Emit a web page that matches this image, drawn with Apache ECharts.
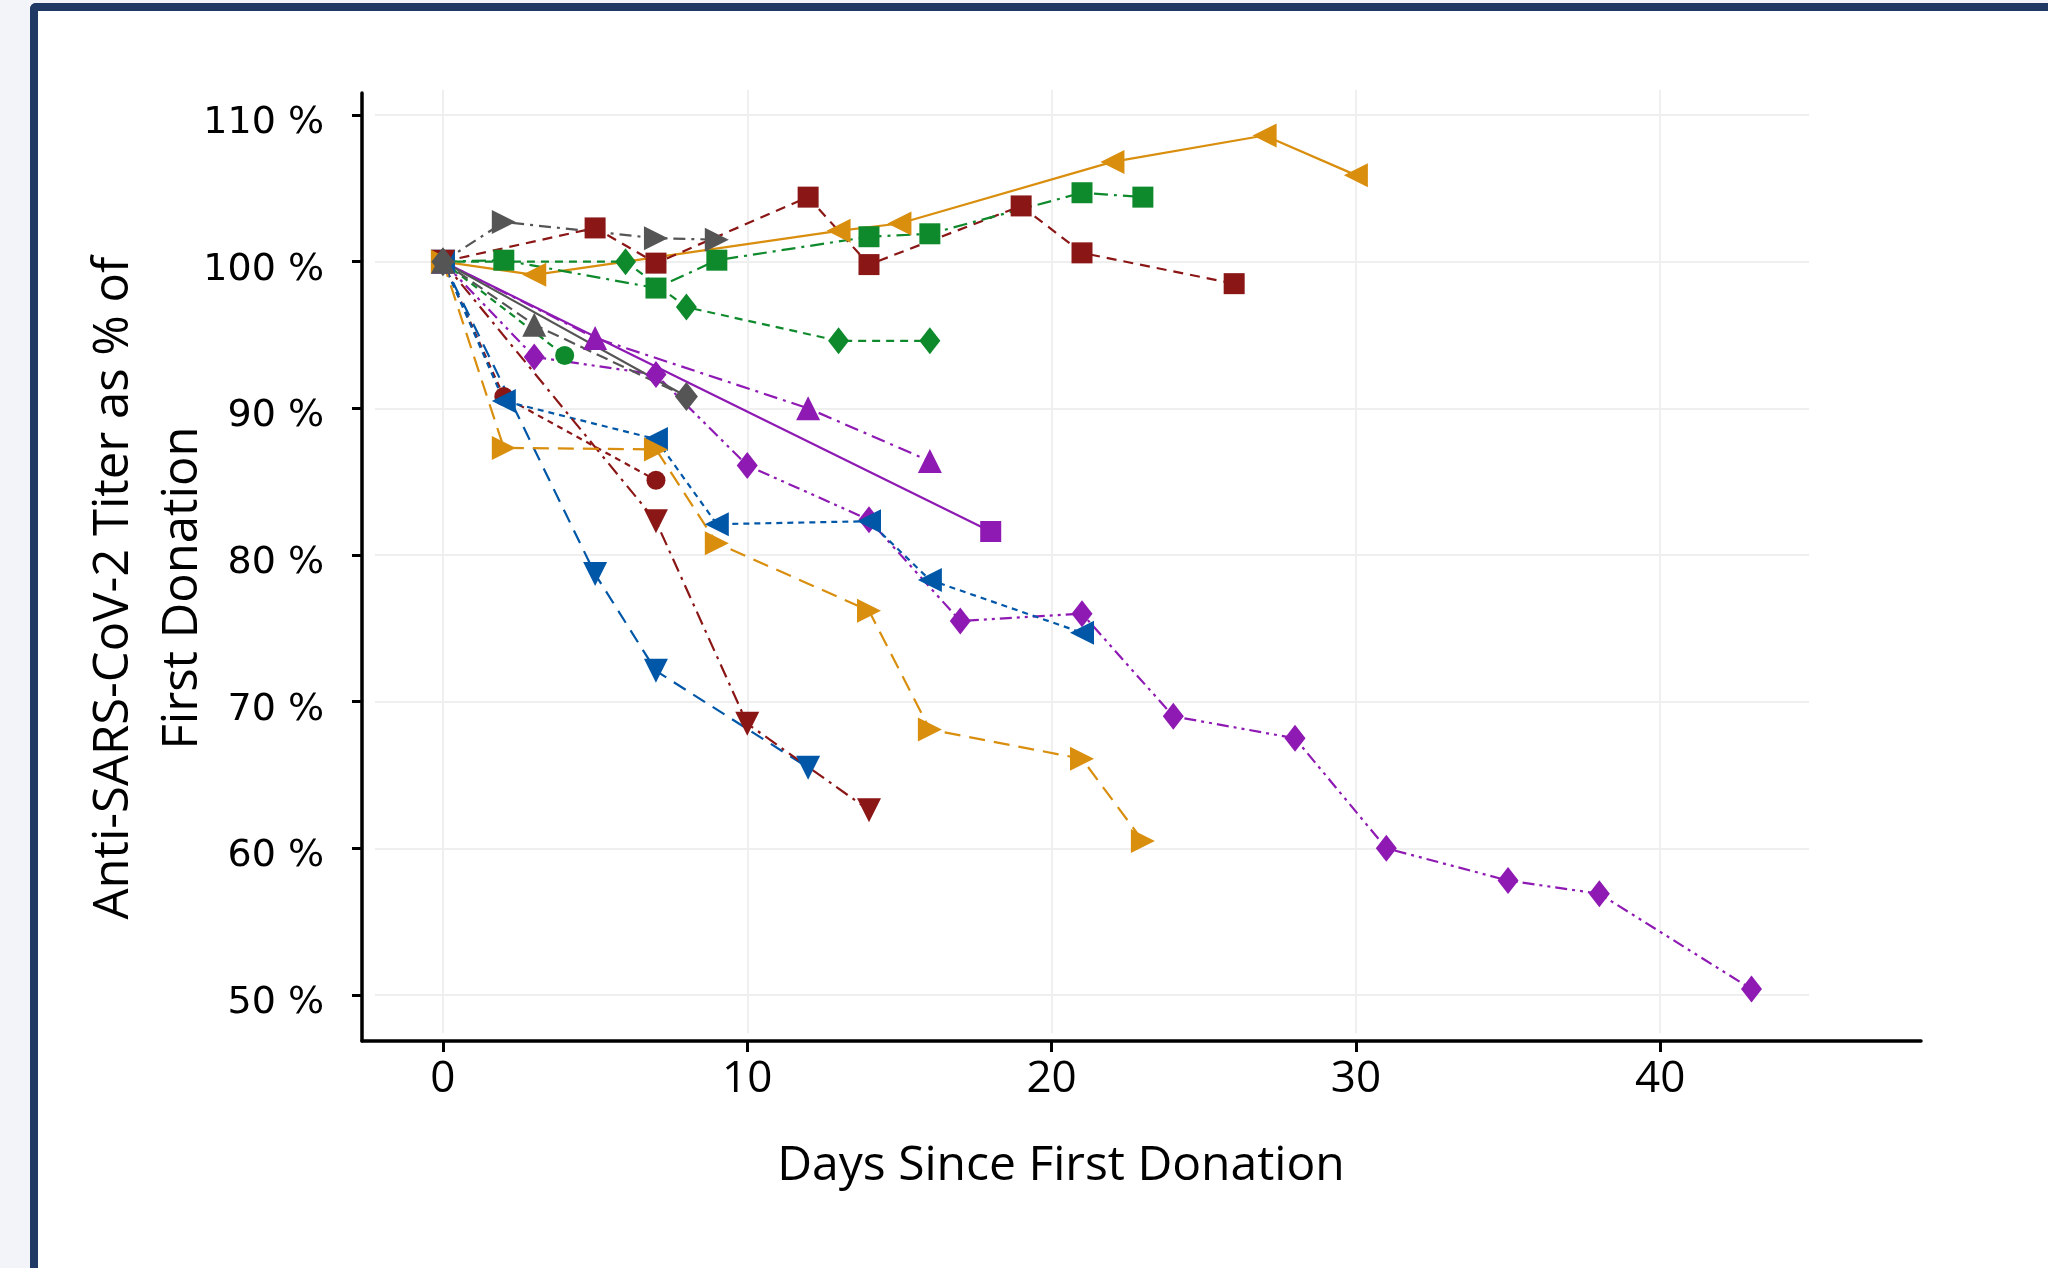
<!DOCTYPE html>
<html>
<head>
<meta charset="utf-8">
<script src="https://cdn.jsdelivr.net/npm/echarts@6/dist/echarts.min.js"></script>
<style>
  html, body { margin:0; padding:0; width:2048px; height:1268px; background:#f3f4f9; overflow:hidden; }
  #frame { position:absolute; left:30px; top:3px; right:0; bottom:0; background:#ffffff;
           border-left:8px solid #1f3864; border-top:8px solid #1f3864; border-top-left-radius:6px; }
  #chart { position:absolute; left:0; top:0; width:2048px; height:1268px; }
</style>
</head>
<body>
<div id="frame"></div>
<div id="chart"></div>
<script>
// ---- data (days since first donation, % of first donation titer) ----
const xTicks = [0, 10, 20, 30, 40];
const yTicks = [50, 60, 70, 80, 90, 100, 110];

const grayRightDays = [0, 2, 7, 9];
const grayRightVals = [100, 102.7, 101.6, 101.5];

const redSqDays = [0, 5, 7, 12, 14, 19, 21, 26];
const redSqVals = [100, 102.3, 99.9, 104.4, 99.8, 103.8, 100.6, 98.5];

const orangeLeftDays = [0, 3, 13, 15, 22, 27, 30];
const orangeLeftVals = [100, 99.1, 102.1, 102.6, 106.8, 108.6, 105.9];

const greenSqDays = [0, 2, 7, 9, 14, 16, 21, 23];
const greenSqVals = [100, 100.1, 98.2, 100.1, 101.7, 101.9, 104.7, 104.4];

const greenDiaDays = [0, 6, 8, 13, 16];
const greenDiaVals = [100, 100, 96.9, 94.6, 94.6];

const greenCircDays = [0, 4];
const greenCircVals = [100, 93.6];

const grayUpDays = [0, 3, 8];
const grayUpVals = [100, 95.7, 90.8];

const grayDiaDays = [0, 8];
const grayDiaVals = [100, 90.8];

const purpleUpDays = [0, 5, 12, 16];
const purpleUpVals = [100, 94.8, 90.0, 86.4];

const purpleSqDays = [0, 18];
const purpleSqVals = [100, 81.6];

const purpleDiaDays = [0, 3, 7, 10, 14, 17, 21, 24, 28, 31, 35, 38, 43];
const purpleDiaVals = [100, 93.5, 92.3, 86.1, 82.4, 75.5, 76.0, 69.0, 67.5, 60.0, 57.8, 56.9, 50.4];

const blueLeftDays = [0, 2, 7, 9, 14, 16, 21];
const blueLeftVals = [100, 90.5, 87.9, 82.1, 82.3, 78.3, 74.7];

const blueDownDays = [0, 5, 7, 12];
const blueDownVals = [100, 78.7, 72.1, 65.5];

const redCircDays = [0, 2, 7];
const redCircVals = [100, 90.8, 85.1];

const redDownDays = [0, 7, 10, 14];
const redDownVals = [100, 82.3, 68.5, 62.6];

const orangeRightDays = [0, 2, 7, 9, 14, 16, 21, 23];
const orangeRightVals = [100, 87.3, 87.2, 80.8, 76.2, 68.1, 66.1, 60.5];

// ---- styling ----
const C = {
  red: '#8B1616', gray: '#555555', green: '#0E8A2C', orange: '#D98E0E',
  purple: '#8E19B3', blue: '#0057A8'
};
function pairs(d, v) { return d.map((x, i) => [x, v[i]]); }
function mk(name, days, vals, color, symbol, rot, size, dash, opts) {
  return Object.assign({
    name, type: 'line', xAxisIndex: 0, yAxisIndex: 0,
    data: pairs(days, vals),
    symbol, symbolRotate: rot, symbolSize: size, showSymbol: true,
    lineStyle: { color, width: 2.2, type: dash },
    itemStyle: { color, borderWidth: 0 },
    emphasis: { disabled: true }, animation: false, silent: true, z: 3
  }, opts || {});
}

const TRI = 24, SQ = 21, DIA = [21, 27], CIR = 19;
const series = [
  mk('orangeLeft', orangeLeftDays, orangeLeftVals, C.orange, 'triangle', 90, TRI, 'solid'),
  mk('redSq', redSqDays, redSqVals, C.red, 'rect', 0, SQ, [10, 7]),
  mk('greenSq', greenSqDays, greenSqVals, C.green, 'rect', 0, SQ, [14, 6, 3, 6]),
  mk('greenDia', greenDiaDays, greenDiaVals, C.green, 'diamond', 0, DIA, [8, 6]),
  mk('grayRight', grayRightDays, grayRightVals, C.gray, 'triangle', -90, TRI, [12, 6, 3, 6]),
  mk('greenCirc', greenCircDays, greenCircVals, C.green, 'circle', 0, CIR, [7, 5]),
  mk('purpleUp', purpleUpDays, purpleUpVals, C.purple, 'triangle', 0, TRI, [14, 6, 3, 6]),
  mk('purpleSq', purpleSqDays, purpleSqVals, C.purple, 'rect', 0, SQ, 'solid'),
  mk('purpleDia', purpleDiaDays, purpleDiaVals, C.purple, 'diamond', 0, DIA, [12, 5, 3, 5, 3, 5]),
  mk('redCirc', redCircDays, redCircVals, C.red, 'circle', 0, CIR, [6, 5]),
  mk('blueLeft', blueLeftDays, blueLeftVals, C.blue, 'triangle', 90, TRI, [6, 5]),
  mk('blueDown', blueDownDays, blueDownVals, C.blue, 'triangle', 180, TRI, [14, 9]),
  mk('redDown', redDownDays, redDownVals, C.red, 'triangle', 180, TRI, [14, 6, 3, 6]),
  mk('orangeRight', orangeRightDays, orangeRightVals, C.orange, 'triangle', -90, TRI, [16, 9]),
  mk('grayUp', grayUpDays, grayUpVals, C.gray, 'triangle', 0, TRI, [12, 6],
     { symbolSize: (v, p) => (p.dataIndex === grayUpDays.length - 1 ? 0 : TRI) }),
  mk('grayDia', grayDiaDays, grayDiaVals, C.gray, 'diamond', 0, [23, 29], 'solid')
];

const gridColor = '#efefef';
const nameFont = '49px "Open Sans", sans-serif';
const chart = echarts.init(document.getElementById('chart'), null, { renderer: 'canvas' });
chart.setOption({
  backgroundColor: 'transparent',
  animation: false,
  grid: [
    { left: 362, right: 127, top: 93, bottom: 227 },
    { left: 375, right: 239, top: 115, bottom: 273 },
    { left: 443, right: 388, top: 90, bottom: 235 }
  ],
  xAxis: [
    { gridIndex: 0, type: 'value', min: -2.66, max: 48.57,
      axisLine: { onZero: false, lineStyle: { color: '#000', width: 3.5 } },
      axisTick: { show: true, length: 11, lineStyle: { color: '#000', width: 3 }, customValues: xTicks },
      axisLabel: { customValues: xTicks, color: '#000', fontSize: 44,
                   fontFamily: '"Open Sans", sans-serif', margin: 16 },
      splitLine: { show: false } },
    { gridIndex: 1, type: 'value', min: 0, max: 1, show: false },
    { gridIndex: 2, type: 'value', min: 0, max: 40, interval: 10,
      axisLine: { show: false }, axisTick: { show: false }, axisLabel: { show: false },
      splitLine: { show: true, lineStyle: { color: gridColor, width: 2 } } }
  ],
  yAxis: [
    { gridIndex: 0, type: 'value', min: 46.86, max: 111.5,
      axisLine: { onZero: false, lineStyle: { color: '#000', width: 3.5 } },
      axisTick: { show: true, length: 10, lineStyle: { color: '#000', width: 3 }, customValues: yTicks },
      axisLabel: { customValues: yTicks, color: '#000', fontSize: 38,
                   fontFamily: '"DejaVu Sans", sans-serif', margin: 38,
                   verticalAlign: 'top', lineHeight: 16,
                   formatter: v => v + ' %' },
      splitLine: { show: false } },
    { gridIndex: 1, type: 'value', min: 50, max: 110, interval: 10,
      axisLine: { show: false }, axisTick: { show: false }, axisLabel: { show: false },
      splitLine: { show: true, lineStyle: { color: gridColor, width: 2 } } },
    { gridIndex: 2, type: 'value', min: 0, max: 1, show: false }
  ],
  graphic: [
    { type: 'text', x: 1061, y: 1166, silent: true,
      style: { text: 'Days Since First Donation', fill: '#000', font: '48px "Open Sans", sans-serif',
               textAlign: 'center', textVerticalAlign: 'middle' } },
    { type: 'text', x: 114, y: 588, rotation: Math.PI / 2, silent: true,
      style: { text: 'Anti-SARS-CoV-2 Titer as % of', fill: '#000', font: nameFont,
               textAlign: 'center', textVerticalAlign: 'middle' } },
    { type: 'text', x: 183, y: 588, rotation: Math.PI / 2, silent: true,
      style: { text: 'First Donation', fill: '#000', font: nameFont,
               textAlign: 'center', textVerticalAlign: 'middle' } }
  ],
  series
});
</script>
</body>
</html>
